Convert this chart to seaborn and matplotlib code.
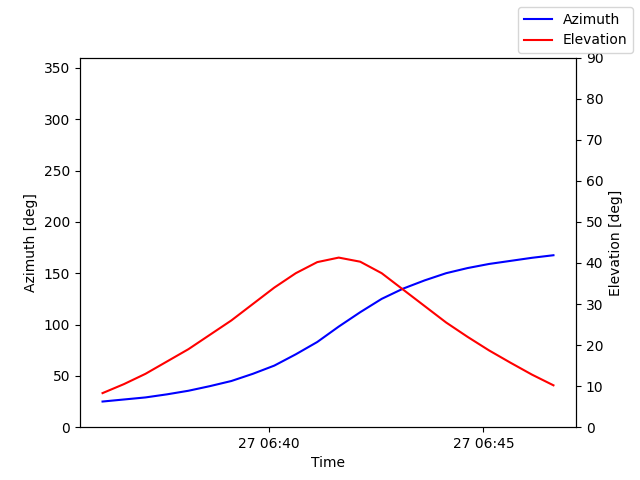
import matplotlib
matplotlib.use("Agg")
import matplotlib.pyplot as plt
import matplotlib.dates as mdates
import seaborn as sns
import pandas as pd

times = pd.date_range("2024-01-27 06:36:08", periods=22, freq="30s")
azimuth = [25, 27, 29, 32, 35.5, 40, 45, 52, 60, 71, 83, 98, 112, 125, 135, 143,
           150, 155, 159, 162, 165, 167.5]
elevation = [8.3, 10.5, 13, 16, 19, 22.5, 26, 30, 34, 37.5, 40.2, 41.3, 40.3, 37.5,
             33.5, 29.5, 25.5, 22, 18.7, 15.7, 12.8, 10.2]
df = pd.DataFrame({"Time": times, "Azimuth": azimuth, "Elevation": elevation})

fig, ax = plt.subplots(figsize=(6.4, 4.8), dpi=100)
sns.lineplot(data=df, x="Time", y="Azimuth", color="blue", ax=ax, label="Azimuth", legend=False)
ax2 = ax.twinx()
sns.lineplot(data=df, x="Time", y="Elevation", color="red", ax=ax2, label="Elevation", legend=False)
ax.set_ylim(0, 360)
ax2.set_ylim(0, 90)
ax.set_ylabel("Azimuth [deg]")
ax2.set_ylabel("Elevation [deg]")
ax.set_xlabel("Time")
ax.xaxis.set_major_locator(mdates.MinuteLocator(byminute=range(0, 60, 5)))
ax.xaxis.set_major_formatter(mdates.DateFormatter("%d %H:%M"))
fig.legend(loc="upper right")
fig.savefig("out.png")
